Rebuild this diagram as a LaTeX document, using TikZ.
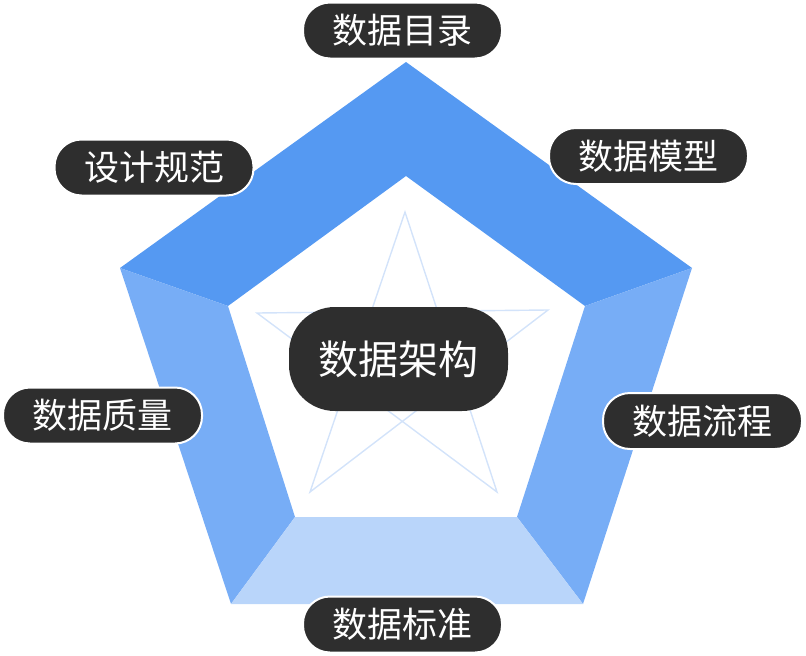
\documentclass[tikz,border=0pt]{standalone}
\usepackage{fontspec}
\newfontfamily\cjk{Noto Sans CJK SC}
\definecolor{topblue}{HTML}{5599F2}
\definecolor{sideblue}{HTML}{77ADF6}
\definecolor{lowblue}{HTML}{B9D5FA}
\definecolor{starblue}{HTML}{D3E3FA}
\definecolor{pillgray}{HTML}{2E2E2E}

\begin{document}
\begin{tikzpicture}[x=1pt, y=-1pt,
    pill/.style={fill=pillgray, draw=white, line width=2pt, rounded corners=27pt,
        minimum width=199pt, minimum height=56pt, inner sep=0pt,
        text=white, font=\cjk\fontsize{35}{35}\selectfont},
    hub/.style={fill=pillgray, rounded corners=46pt, minimum width=219pt,
        minimum height=104pt, inner sep=0pt, text=white,
        font=\cjk\fontsize{40}{40}\selectfont}]
    \useasboundingbox (0,0) rectangle (806,656);
    % outer and inner corners of the ring
    \coordinate (o1) at (406,62);  \coordinate (o2) at (692,268);
    \coordinate (o3) at (583,604); \coordinate (o4) at (231,604);
    \coordinate (o5) at (120,268);
    \coordinate (i1) at (406,176); \coordinate (i2) at (585,306);
    \coordinate (i3) at (517,517); \coordinate (i4) at (295,517);
    \coordinate (i5) at (228,306);
    \fill[topblue] (o5)--(o1)--(i1)--(i5)--cycle;
    \fill[topblue] (o1)--(o2)--(i2)--(i1)--cycle;
    \fill[sideblue] (o2)--(o3)--(i3)--(i2)--cycle;
    \fill[sideblue] (o5)--(o4)--(i4)--(i5)--cycle;
    \fill[lowblue] (o4)--(o3)--(i3)--(i4)--cycle;
    % star behind the hub
    \coordinate (s1) at (405,212); \coordinate (s2) at (548,310);
    \coordinate (s3) at (497,492); \coordinate (s4) at (310,492);
    \coordinate (s5) at (257,313);
    \draw[starblue, line width=1.4pt, line join=miter] (s1)--(s3)--(s5)--(s2)--(s4)--cycle;
    \node[hub] (arch) at (398.5,359) {数据架构};
    \node[pill] (catalog) at (402.5,30.5) {数据目录};
    \node[pill] (model) at (648.5,156) {数据模型};
    \node[pill] (flow) at (702.5,421) {数据流程};
    \node[pill] (std) at (402.5,624.5) {数据标准};
    \node[pill] (quality) at (102.5,415.5) {数据质量};
    \node[pill] (spec) at (154,167.5) {设计规范};
\end{tikzpicture}
\end{document}
